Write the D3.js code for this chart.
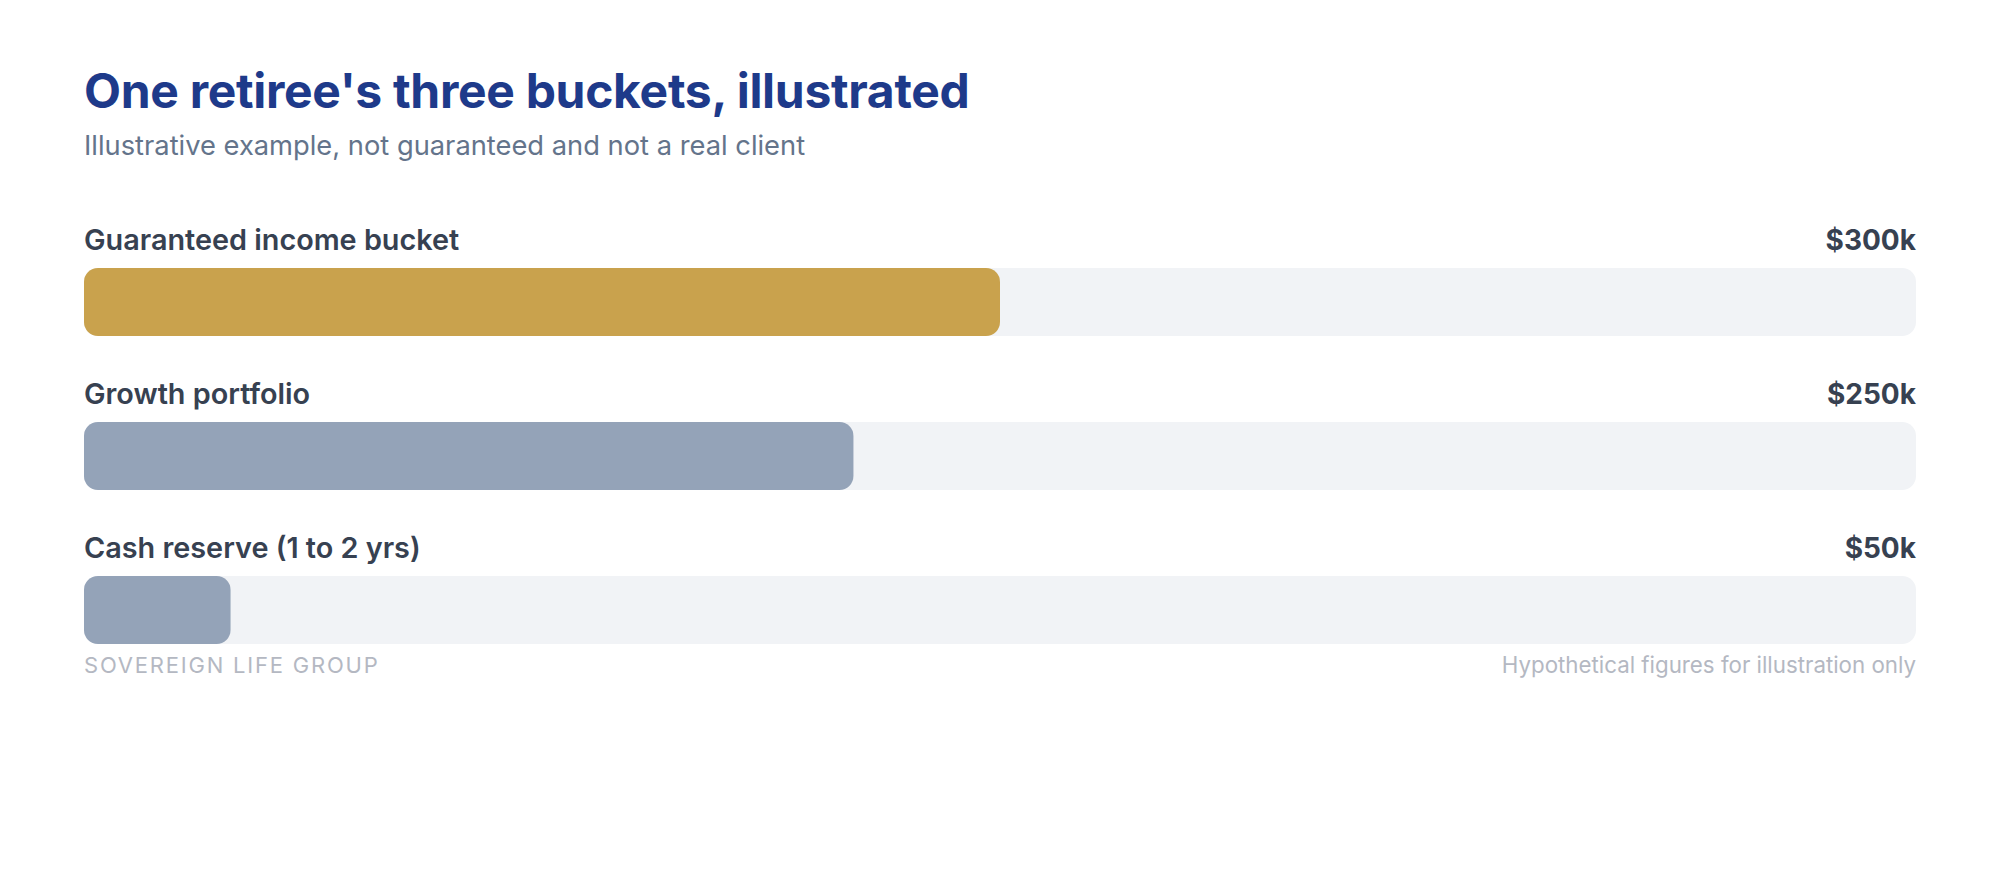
<!DOCTYPE html>
<html>
<head>
<meta charset="utf-8">
<script src="https://cdn.jsdelivr.net/npm/d3@7"></script>
<style>
  html, body { margin: 0; padding: 0; background: #ffffff; }
  svg { display: block; font-family: Inter, "Noto Sans", sans-serif; }
</style>
</head>
<body>
<svg id="chart" width="2000" height="880"></svg>
<script>
const categories = ["Guaranteed income bucket", "Growth portfolio", "Cash reserve (1 to 2 yrs)"];
const values = [300, 250, 50];          // $ thousands
const valueLabels = ["$300k", "$250k", "$50k"];
const barColors = ["#c9a24d", "#94a3b8", "#94a3b8"];

const svg = d3.select("#chart");
const left = 84, right = 1916;
const total = d3.sum(values);
// share of the total, as a whole percentage
const pct = values.map(v => Math.round(v / total * 100));

const x = d3.scaleLinear().domain([0, 100]).range([left, right]);
const y = d3.scaleBand().domain(categories).range([222, 684]).paddingInner(0).paddingOuter(0);
const barTop = 46, barH = 68, radius = 14;

// Title
svg.append("text").attr("x", left).attr("y", 108)
  .attr("font-size", 48).attr("font-weight", 700).attr("fill", "#1e3a8a")
  .attr("letter-spacing", "-0.3")
  .text("One retiree's three buckets, illustrated");
svg.append("text").attr("x", left).attr("y", 155)
  .attr("font-size", 27.3).attr("fill", "#64748b")
  .text("Illustrative example, not guaranteed and not a real client");

const row = svg.selectAll("g.row").data(categories).join("g")
  .attr("class", "row")
  .attr("transform", d => `translate(0,${y(d)})`);

row.append("text").attr("x", left).attr("y", 28)
  .attr("font-size", 28.8).attr("font-weight", 600).attr("fill", "#374151")
  .text(d => d);
row.append("text").attr("x", right).attr("y", 28).attr("text-anchor", "end")
  .attr("font-size", 28).attr("font-weight", 700).attr("fill", "#374151")
  .text((d, i) => valueLabels[i]);

row.append("rect").attr("x", x(0)).attr("y", barTop)
  .attr("width", x(100) - x(0)).attr("height", barH)
  .attr("rx", radius).attr("fill", "#f1f3f6");
row.append("rect").attr("x", x(0)).attr("y", barTop)
  .attr("width", (d, i) => x(pct[i]) - x(0)).attr("height", barH)
  .attr("rx", radius).attr("fill", (d, i) => barColors[i]);

// Footer
svg.append("text").attr("x", left).attr("y", 673)
  .attr("font-size", 22).attr("fill", "#b4b8c2").attr("letter-spacing", "1.8")
  .text("SOVEREIGN LIFE GROUP");
svg.append("text").attr("x", right).attr("y", 673).attr("text-anchor", "end")
  .attr("font-size", 22.3).attr("fill", "#b4b8c2")
  .text("Hypothetical figures for illustration only");
</script>
</body>
</html>
